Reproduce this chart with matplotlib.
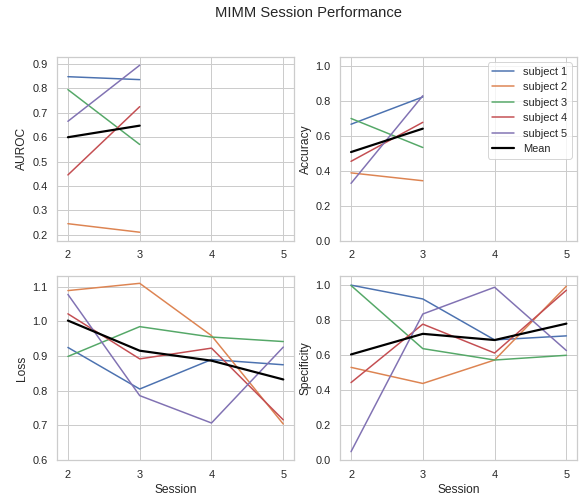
import matplotlib
matplotlib.use("Agg")
import matplotlib.pyplot as plt
import seaborn as sns

sessions = [2, 3, 4, 5]
subjects = ["subject 1", "subject 2", "subject 3", "subject 4", "subject 5"]

auroc = [
    [0.848, 0.836],
    [0.245, 0.210],
    [0.795, 0.570],
    [0.445, 0.725],
    [0.665, 0.895],
]
accuracy = [
    [0.665, 0.821],
    [0.387, 0.342],
    [0.698, 0.532],
    [0.453, 0.676],
    [0.327, 0.828],
]
loss = [
    [0.925, 0.805, 0.890, 0.875],
    [1.089, 1.110, 0.959, 0.704],
    [0.899, 0.985, 0.955, 0.942],
    [1.022, 0.892, 0.923, 0.716],
    [1.078, 0.786, 0.707, 0.926],
]
specificity = [
    [1.000, 0.921, 0.687, 0.710],
    [0.530, 0.438, 0.572, 0.994],
    [0.998, 0.637, 0.572, 0.599],
    [0.443, 0.777, 0.612, 0.971],
    [0.048, 0.835, 0.988, 0.626],
]

sns.set_theme(style="whitegrid")
plt.rcParams["font.family"] = ["Liberation Sans", "DejaVu Sans"]
colors = sns.color_palette("deep")

fig, axes = plt.subplots(2, 2, figsize=(583 / 72, 499 / 72), dpi=72)
fig.subplots_adjust(left=0.098, right=0.99, top=0.886, bottom=0.078,
                    wspace=0.195, hspace=0.195)

panels = [(axes[0, 0], auroc, "AUROC", None),
          (axes[0, 1], accuracy, "Accuracy", (0, 1.05)),
          (axes[1, 0], loss, "Loss", (0.6, 1.13)),
          (axes[1, 1], specificity, "Specificity", (0, 1.05))]

for ax, data, name, ylim in panels:
    n = len(data[0])
    for i, vals in enumerate(data):
        ax.plot(sessions[:n], vals, color=colors[i], lw=1.5, label=subjects[i])
    mean = [sum(v[j] for v in data) / len(data) for j in range(n)]
    ax.plot(sessions[:n], mean, color="black", lw=2.2, label="Mean")
    ax.set_ylabel(name)
    ax.set_xlim(1.85, 5.15)
    ax.set_xticks(sessions)
    if ylim:
        ax.set_ylim(*ylim)

axes[1, 0].set_xlabel("Session")
axes[1, 1].set_xlabel("Session")
axes[0, 1].legend(loc="upper right")
fig.suptitle("MIMM Session Performance", x=0.529, y=0.988, fontsize=14.8)

fig.savefig("out.png", dpi=72)
